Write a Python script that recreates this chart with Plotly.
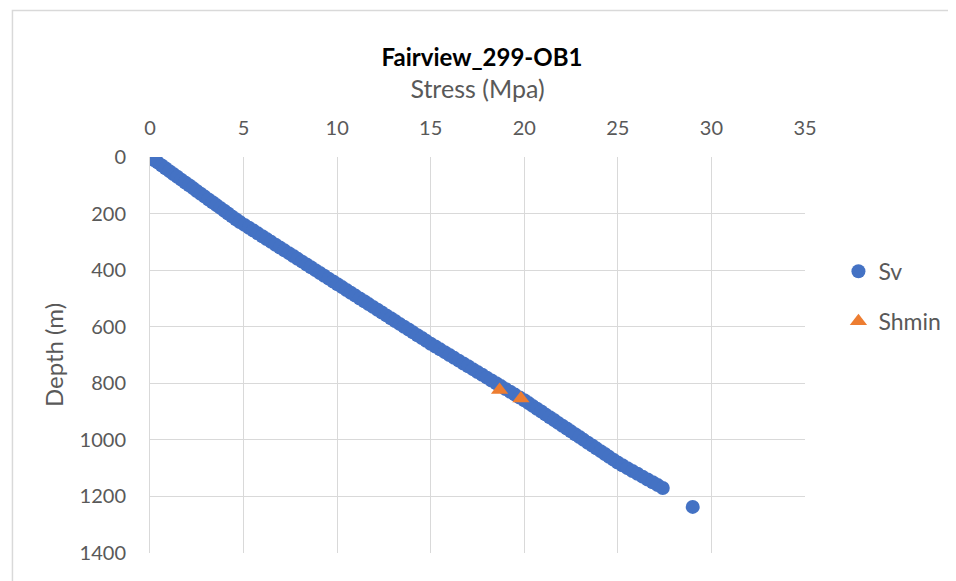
import plotly.graph_objects as go

# Sv (vertical stress) log
sv_depth = [0, 10, 20, 30, 40, 50, 60, 70, 80, 90, 100, 110, 120, 130, 140, 150, 160, 170, 180, 190,
            200, 210, 220, 230, 240, 250, 260, 270, 280, 290, 300, 310, 320, 330, 340, 350, 360, 370,
            380, 390, 400, 410, 420, 430, 440, 450, 460, 470, 480, 490, 500, 510, 520, 530, 540, 550,
            560, 570, 580, 590, 600, 610, 620, 630, 640, 650, 660, 670, 680, 690, 700, 710, 720, 730,
            740, 750, 760, 770, 780, 790, 800, 810, 820, 830, 840, 850, 860, 870, 880, 890, 900, 910,
            920, 930, 940, 950, 960, 970, 980, 990, 1000, 1010, 1020, 1030, 1040, 1050, 1060, 1070,
            1080, 1090, 1100, 1110, 1120, 1130, 1140, 1150, 1160, 1170, 1237]
sv_stress = [0.00, 0.21, 0.42, 0.63, 0.83, 1.04, 1.25, 1.46, 1.67, 1.88, 2.09, 2.30, 2.50, 2.71, 2.92,
             3.13, 3.34, 3.55, 3.76, 3.97, 4.17, 4.38, 4.59, 4.80, 5.05, 5.29, 5.52, 5.76, 6.00, 6.23,
             6.47, 6.71, 6.94, 7.18, 7.42, 7.66, 7.89, 8.13, 8.37, 8.60, 8.84, 9.08, 9.31, 9.55, 9.79,
             10.02, 10.26, 10.50, 10.73, 10.97, 11.21, 11.45, 11.68, 11.92, 12.16, 12.39, 12.63, 12.87,
             13.10, 13.34, 13.58, 13.82, 14.05, 14.29, 14.53, 14.76, 15.00, 15.25, 15.50, 15.75, 16.00,
             16.25, 16.50, 16.75, 17.00, 17.25, 17.50, 17.75, 18.00, 18.25, 18.50, 18.75, 19.00, 19.25,
             19.50, 19.75, 20.00, 20.23, 20.45, 20.68, 20.91, 21.13, 21.36, 21.59, 21.81, 22.04, 22.27,
             22.49, 22.72, 22.95, 23.17, 23.40, 23.63, 23.85, 24.08, 24.31, 24.53, 24.76, 24.99, 25.24,
             25.51, 25.78, 26.05, 26.32, 26.59, 26.86, 27.13, 27.40, 29.00]

# Shmin measurements
shmin_depth = [824, 854]
shmin_stress = [18.68, 19.82]

x_ticks = [0, 5, 10, 15, 20, 25, 30, 35]
y_ticks = [0, 200, 400, 600, 800, 1000, 1200, 1400]

gray = "#595959"
grid = "#d9d9d9"

fig = go.Figure()
fig.add_trace(go.Scatter(x=sv_stress, y=sv_depth, mode="markers", name="Sv",
                         legendgroup="a",
                         marker=dict(color="#4472C4", size=14, line=dict(width=0))))
fig.add_trace(go.Scatter(x=shmin_stress, y=shmin_depth, mode="markers", name="Shmin",
                         legendgroup="b",
                         marker=dict(color="#ED7D31", size=15, symbol="triangle-up",
                                     line=dict(width=0))))

# page body adds an 8px margin, so the figure is 8px smaller each way
fig.update_layout(
    width=948, height=573,
    margin=dict(l=142, r=151, t=149, b=28),
    paper_bgcolor="white", plot_bgcolor="white",
    font=dict(family="Lato, Open Sans, sans-serif", size=20, color=gray),
    title=dict(text="<b>Fairview_299-OB1</b>", x=0.5, xanchor="center",
               y=1 - 50 / 573, yanchor="middle",
               font=dict(size=24, color="black")),
    legend=dict(xref="container", yref="container", x=0.876, y=0.578,
                xanchor="left", yanchor="top",
                font=dict(size=23, color=gray), tracegroupgap=17,
                bgcolor="rgba(0,0,0,0)"),
    shapes=[dict(type="rect", xref="paper", yref="paper",
                 x0=-0.21, x1=1.25, y0=-0.2, y1=1.37,
                 line=dict(color=grid, width=1.5), fillcolor="rgba(0,0,0,0)", layer="below")],
)

fig.update_xaxes(side="top", range=[0, 35], tickvals=x_ticks, showgrid=True, gridcolor=grid,
                 gridwidth=1, zeroline=False, showline=False, ticks="", automargin=False,
                 ticklabelstandoff=17, tickfont=dict(size=20, color=gray),
                 title=dict(text="Stress (Mpa)", font=dict(size=25, color=gray), standoff=9))
fig.update_yaxes(range=[1400, 0], tickvals=y_ticks, showgrid=True, gridcolor=grid,
                 gridwidth=1, zeroline=False, showline=True, linecolor=grid, ticks="",
                 automargin=False,
                 ticklabelstandoff=19, tickfont=dict(size=20, color=gray),
                 title=dict(text="Depth (m)", font=dict(size=24, color=gray), standoff=9))

fig.write_html("out.html")
